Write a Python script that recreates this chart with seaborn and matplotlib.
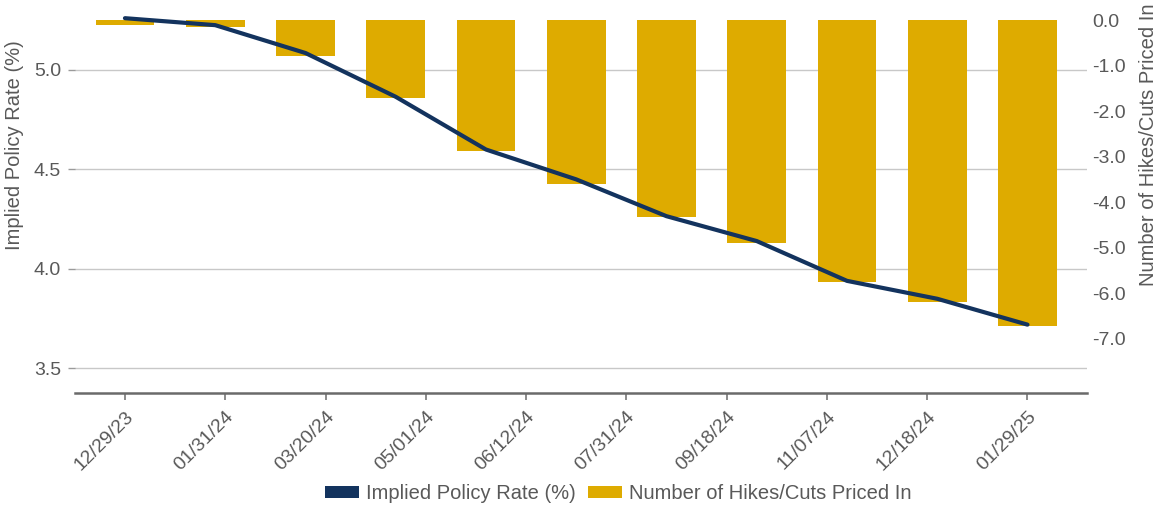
import numpy as np
import pandas as pd
import matplotlib
matplotlib.use("Agg")
import matplotlib.pyplot as plt
from matplotlib.patches import Patch
import seaborn as sns

# ---- data ----
meeting_labels = ["12/29/23", "01/31/24", "03/20/24", "05/01/24", "06/12/24",
                  "07/31/24", "09/18/24", "11/07/24", "12/18/24", "01/29/25"]
implied_rate = [5.26, 5.225, 5.085, 4.865, 4.60, 4.45, 4.265, 4.14, 3.94, 3.85, 3.72]
hikes_cuts = [-0.10, -0.15, -0.79, -1.71, -2.88, -3.61, -4.32, -4.90, -5.76, -6.20, -6.73]
rate_ticks = [3.5, 4.0, 4.5, 5.0]
cuts_ticks = [0, -1, -2, -3, -4, -5, -6, -7]

NAVY = "#13335E"
GOLD = "#DEAB00"
TXT = "#595959"

sns.set_theme(style="white")
plt.rcParams["font.family"] = ["Liberation Sans", "DejaVu Sans"]
plt.rcParams["axes.unicode_minus"] = False

pos = np.arange(len(implied_rate))
df = pd.DataFrame({"pos": pos, "rate": implied_rate, "cuts": hikes_cuts})

fig = plt.figure(figsize=(11.62, 5.09), dpi=100)
ax = fig.add_axes([0.0645, 0.2285, 0.871, 0.7475])
ax2 = ax.twinx()
ax3 = ax.twinx()

# bars (right axis)
sns.barplot(data=df, x="pos", y="cuts", ax=ax2, color=GOLD, width=0.65,
            native_scale=True, saturation=1, errorbar=None, edgecolor="none")
# line (left scale, drawn on top)
sns.lineplot(data=df, x="pos", y="rate", ax=ax3, color=NAVY, linewidth=3.0)

ax.set_ylim(3.378, 5.29)
ax3.set_ylim(3.378, 5.29)
ax2.set_ylim(-8.19, 0.176)
ax.set_xlim(-0.554, 10.66)

# left axis
ax.set_yticks(rate_ticks)
ax.set_yticklabels([f"{v:.1f}" for v in rate_ticks])
ax.grid(axis="y", color="#C8C8C8", linewidth=1.0)
ax.grid(axis="x", visible=False)
ax.tick_params(axis="y", left=True, length=5, width=1, color="#9a9a9a",
               labelsize=14, labelcolor=TXT, pad=5)
ax.set_ylabel("Implied Policy Rate (%)", fontsize=14.5, color=TXT)
ax.yaxis.set_label_coords(-0.050, 0.651)

# right axis
ax2.set_yticks(cuts_ticks)
ax2.set_yticklabels([f"{v:.1f}" for v in cuts_ticks])
ax2.tick_params(axis="y", right=True, length=0, labelsize=14, labelcolor=TXT, pad=4)
ax2.set_ylabel("Number of Hikes/Cuts Priced In", fontsize=14.5, color=TXT,
               rotation=90)
ax2.yaxis.set_label_position("right")
ax2.yaxis.set_label_coords(1.051, 0.651)
ax2.grid(False)

ax3.axis("off")

# x axis
ax.set_xticks(np.linspace(0, 10, len(meeting_labels)))
ax.set_xticklabels(meeting_labels, rotation=45, ha="right", rotation_mode="anchor")
ax.tick_params(axis="x", bottom=True, length=5, width=1.2, color="#777777",
               labelsize=14, labelcolor=TXT, pad=6)
ax2.set_xlabel("")
ax.set_xlabel("")
ax3.set_xlabel("")

for a in (ax, ax2, ax3):
    for s in a.spines.values():
        s.set_visible(False)
ax.spines["bottom"].set_visible(True)
ax.spines["bottom"].set_color("#6a6a6a")
ax.spines["bottom"].set_linewidth(1.8)

handles = [Patch(facecolor=NAVY, edgecolor="none"), Patch(facecolor=GOLD, edgecolor="none")]
fig.legend(handles, ["Implied Policy Rate (%)", "Number of Hikes/Cuts Priced In"],
           loc="center", bbox_to_anchor=(0.532, 0.03), ncol=2, frameon=False,
           fontsize=14.5, labelcolor=TXT, handlelength=1.7, handleheight=0.55,
           handletextpad=0.35, columnspacing=0.6)

fig.savefig("out.png", dpi=100)
